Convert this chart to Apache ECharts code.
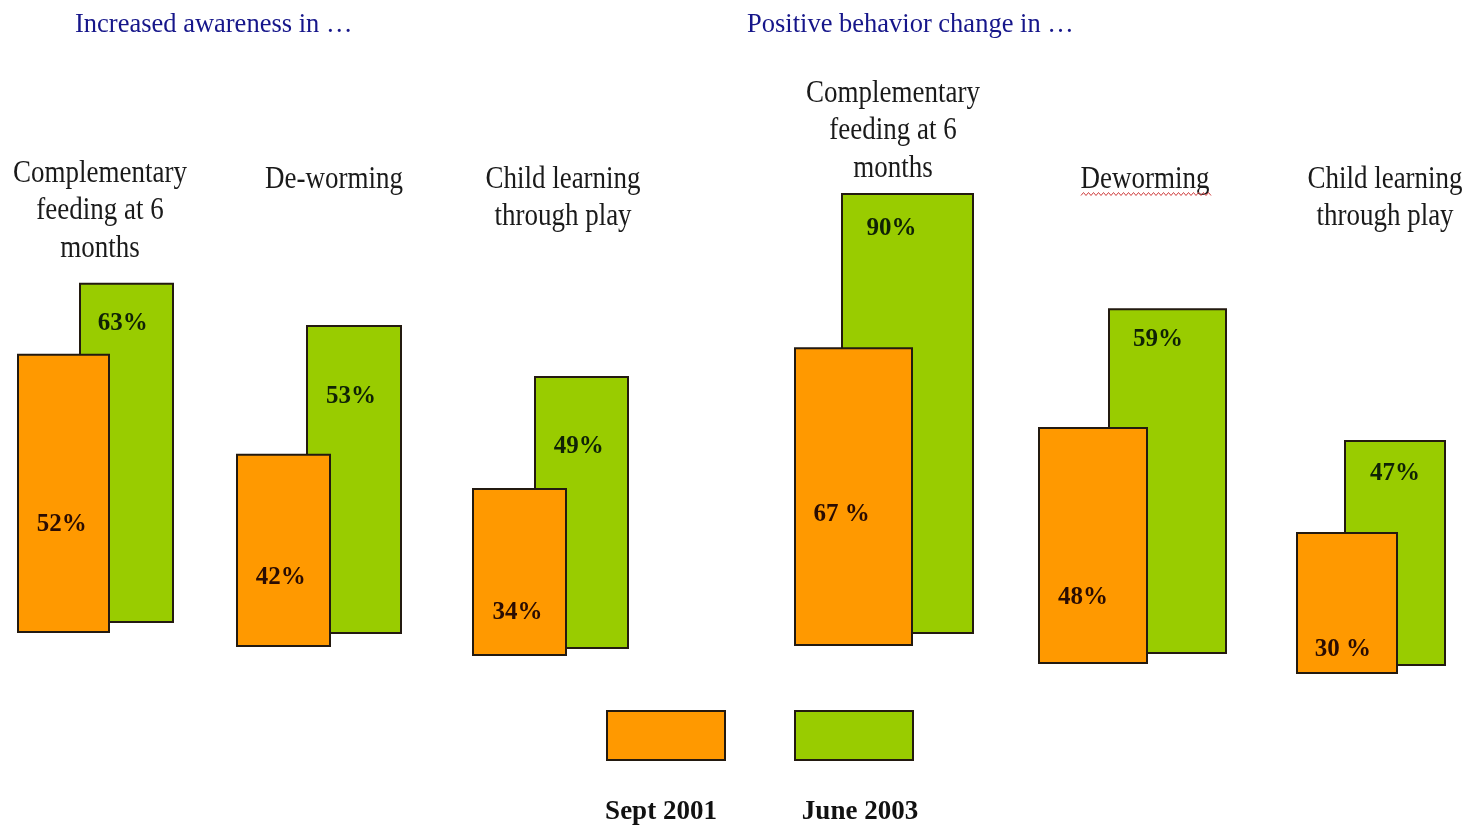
<!DOCTYPE html>
<html>
<head>
<meta charset="utf-8">
<script src="https://cdn.jsdelivr.net/npm/echarts@6/dist/echarts.min.js"></script>
<style>
  html, body { margin: 0; padding: 0; background: #ffffff; }
  #chart { width: 1468px; height: 827px; }
</style>
</head>
<body>
<div id="chart"></div>
<script>
// ---------------- DATA ----------------
const sectionTitles = ['Increased awareness in \u2026', 'Positive behavior change in \u2026'];
const groupTitles = [
  'Complementary\nfeeding at 6\nmonths',
  'De-worming',
  'Child learning\nthrough play',
  'Complementary\nfeeding at 6\nmonths',
  'Deworming',
  'Child learning\nthrough play'
];
const seriesNames = ['Sept 2001', 'June 2003'];
const sept2001 = [52, 42, 34, 67, 48, 30];
const june2003 = [63, 53, 49, 90, 59, 47];
const sept2001Labels = ['52%', '42%', '34%', '67 %', '48%', '30 %'];
const june2003Labels = ['63%', '53%', '49%', '90%', '59%', '47%'];

// ---------------- LAYOUT (not data) ----------------
// each bar panel: [left, right, baseline y, pixels per percentage point]
const septPanels = [[17,110,633,5.37],[236,331,647,4.60],[472,567,656,4.94],[794,913,646,4.46],[1038,1148,664,4.94],[1296,1398,674,4.73]];
const junePanels = [[79,174,623,5.40],[306,402,634,5.83],[534,629,649,5.57],[841,974,634,4.90],[1108,1227,654,5.86],[1344,1446,666,4.81]];
const septLabelPos = [['48%','61%'],['47%','64%'],['48%','74%'],['40%','56%'],['41%','72%'],['46%','83%']];
const juneLabelPos = [['46%','12%'],['47%','23%'],['47%','26%'],['38%','8%'],['42%','9%'],['50%','15%']];
// title block: [center x, top y]
const groupTitlePos = [[100,155],[334,161],[563,161],[893,75],[1145,161],[1385,161]];
const sectionTitlePos = [[75,25],[747,25]];

const ORANGE = '#FF9900', GREEN = '#99CC00', BORDER = '#231a10';

const grids = [], xAxes = [], yAxes = [], series = [];
function addBar(panel, value, labelText, labelPos, name, color, labelColor, z) {
  const idx = grids.length;
  const h = panel[3] * 100;
  grids.push({ left: panel[0], width: panel[1] - panel[0], top: panel[2] - h, height: h, containLabel: false });
  xAxes.push({ type: 'category', gridIndex: idx, data: [''], show: false, boundaryGap: true });
  yAxes.push({ type: 'value', gridIndex: idx, min: 0, max: 100, show: false, splitLine: { show: false } });
  series.push({
    type: 'bar', name: name, xAxisIndex: idx, yAxisIndex: idx, z: z,
    barWidth: '100%', data: [value], animation: false,
    itemStyle: { color: color, borderColor: BORDER, borderWidth: 2 },
    label: {
      show: true, position: labelPos, align: 'center', verticalAlign: 'middle',
      formatter: () => labelText,
      fontFamily: '"Liberation Serif", serif', fontWeight: 'bold', fontSize: 25, color: labelColor
    },
    emphasis: { disabled: true }
  });
}
for (let i = 0; i < sept2001.length; i++) {
  addBar(junePanels[i], june2003[i], june2003Labels[i], juneLabelPos[i], seriesNames[1], GREEN, '#0f2205', 2);
  addBar(septPanels[i], sept2001[i], sept2001Labels[i], septLabelPos[i], seriesNames[0], ORANGE, '#2a0c02', 3);
}

const graphics = [];
sectionTitles.forEach((t, i) => {
  graphics.push({ type: 'text', x: sectionTitlePos[i][0], y: sectionTitlePos[i][1],
    style: { text: t, font: '26.5px "Liberation Serif", serif', fill: '#16168a', textVerticalAlign: 'middle' } });
});
groupTitles.forEach((t, i) => {
  graphics.push({ type: 'text', x: groupTitlePos[i][0], y: groupTitlePos[i][1], scaleY: 1.2,
    style: { text: t, font: '27px "Liberation Serif", serif', fill: '#1a1a1a', textAlign: 'center',
      textVerticalAlign: 'top', lineHeight: 31 } });
});
// red spell-check squiggle under "Deworming"
const sq = [];
for (let x = 1081, k = 0; x <= 1212; x += 2.5, k++) sq.push([x, 194 + (k % 2 ? -1.5 : 1.5)]);
graphics.push({ type: 'polyline', shape: { points: sq }, style: { stroke: '#d04040', lineWidth: 1, fill: null } });
// legend captions below the swatches
const legendCaptionPos = [[661,812],[860,812]];
seriesNames.forEach((n, i) => {
  graphics.push({ type: 'text', x: legendCaptionPos[i][0], y: legendCaptionPos[i][1],
    style: { text: n, font: 'bold 27px "Liberation Serif", serif', fill: '#111', textAlign: 'center', textVerticalAlign: 'middle' } });
});

const legendBase = { icon: 'rect', itemWidth: 118, itemHeight: 49, padding: 0, selectedMode: false,
  formatter: () => '', textStyle: { fontSize: 1, color: 'transparent' } };

const chart = echarts.init(document.getElementById('chart'), null, { renderer: 'canvas' });
chart.setOption({
  backgroundColor: '#ffffff',
  animation: false,
  grid: grids, xAxis: xAxes, yAxis: yAxes, series: series,
  legend: [
    Object.assign({}, legendBase, { data: [seriesNames[0]], left: 606, top: 710 }),
    Object.assign({}, legendBase, { data: [seriesNames[1]], left: 794, top: 710 })
  ],
  graphic: graphics
});
</script>
</body>
</html>
